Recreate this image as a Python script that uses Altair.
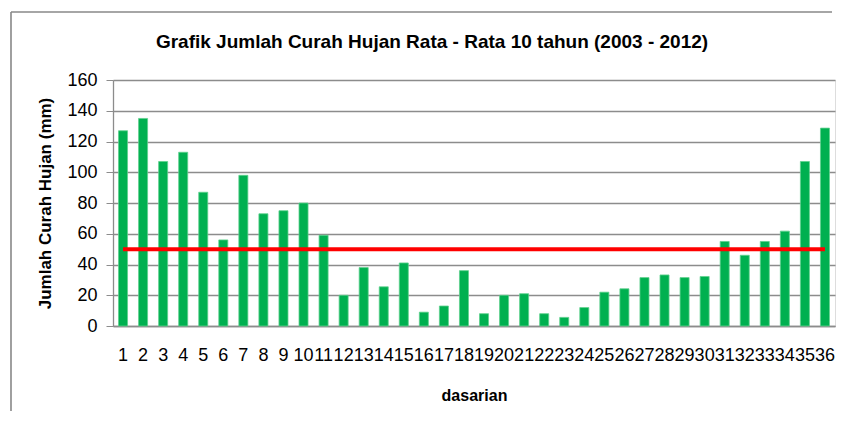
import altair as alt
import pandas as pd

dasarian = [str(i) for i in range(1, 37)]
curah_hujan = [127, 135, 107, 113, 87, 56, 98, 73, 75, 80, 59, 20,
               38, 25.5, 41, 9, 13, 36, 8, 20, 21, 8, 5.6, 12,
               22, 24.2, 31.5, 33.2, 31.5, 32.2, 55, 46, 55, 61.7, 107, 128.7]
batas_x = ["1", "36"]
batas_y = [50, 50]
y_ticks = [0, 20, 40, 60, 80, 100, 120, 140, 160]

title_text = "Grafik Jumlah Curah Hujan Rata - Rata 10 tahun (2003 - 2012)"
FONT = "Liberation Sans"
W, H = 722, 246

df = pd.DataFrame({"dasarian": dasarian, "curah": curah_hujan})
df_line = pd.DataFrame({"dasarian": batas_x, "curah": batas_y})
df_one = pd.DataFrame({"k": [0]})

x_scale = alt.Scale(paddingInner=0.55, paddingOuter=0.275)
x_axis = alt.Axis(title="dasarian", labelAngle=0, ticks=False, labelOverlap=False,
                  labelFontSize=18, labelFont=FONT, labelColor="#000000",
                  labelPadding=20, titleFontSize=16, titleFont=FONT, titleFontWeight="bold",
                  titleColor="#000000", titlePadding=23, domainColor="#8c8c8c",
                  domainWidth=1.3, grid=False)
y_scale = alt.Scale(domain=[0, 160], nice=False)
y_axis = alt.Axis(title="Jumlah Curah Hujan (mm)", values=y_ticks, labelOverlap=False,
                  labelFontSize=18, labelFont=FONT, labelColor="#000000",
                  tickSize=7, tickColor="#8c8c8c", labelPadding=9,
                  titleFontSize=17, titleFont=FONT, titleFontWeight="bold",
                  titleColor="#000000", titlePadding=12,
                  domainColor="#8c8c8c", domainWidth=1.3,
                  gridColor="#8c8c8c", gridWidth=1.3)

bars = alt.Chart(df).mark_bar(color="#00B050", stroke="#5fd08e", strokeWidth=0.8).encode(
    x=alt.X("dasarian:O", sort=dasarian, scale=x_scale, axis=x_axis),
    y=alt.Y("curah:Q", scale=y_scale, axis=y_axis),
)

line = alt.Chart(df_line).mark_line(color="#FF0000", strokeWidth=4).encode(
    x=alt.X("dasarian:O", sort=dasarian, scale=x_scale, axis=x_axis),
    y=alt.Y("curah:Q", scale=y_scale, axis=y_axis),
)

frame_top = alt.Chart(df_one).mark_rule(color="#888888", strokeWidth=1.6).encode(
    x=alt.value(-102), x2=alt.value(W - 3), y=alt.value(-68), y2=alt.value(-68)
)
frame_left = alt.Chart(df_one).mark_rule(color="#888888", strokeWidth=1.6).encode(
    x=alt.value(-102), x2=alt.value(-102), y=alt.value(-68), y2=alt.value(H + 120)
)

chart = alt.layer(bars, line, frame_top, frame_left).properties(
    width=W, height=H,
    title=alt.TitleParams(title_text, font=FONT, fontSize=19, fontWeight="bold",
                          color="#000000", anchor="middle", frame="group",
                          dx=-42, offset=-41),
    autosize=alt.AutoSizeParams(type="none"),
    padding={"left": 105, "top": 72, "right": 1, "bottom": 85},
).configure_view(stroke=None).configure(background="white")

chart.save("out.html", embed_options={"renderer": "svg", "actions": False})
